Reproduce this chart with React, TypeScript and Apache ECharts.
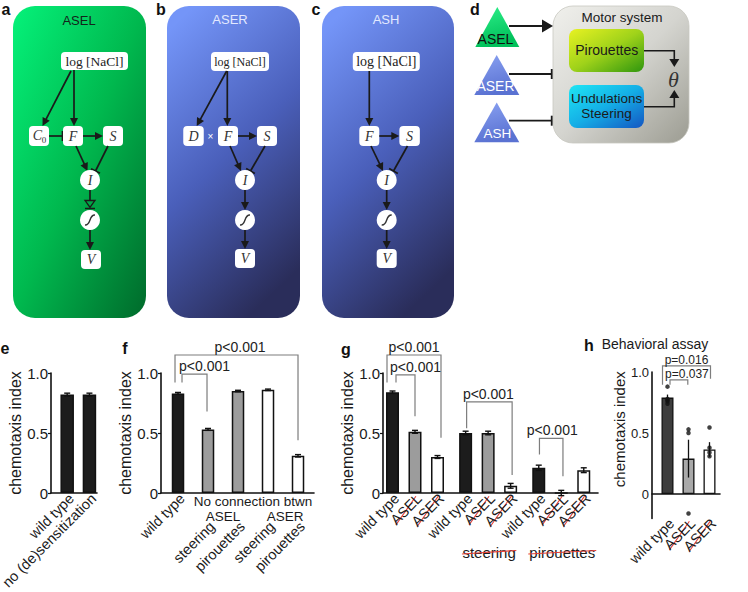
import React, { useEffect, useRef } from 'react';
import * as echarts from 'echarts';

const SANS = '"Liberation Sans", Arial, Helvetica, sans-serif';
const SERIF = '"Liberation Serif", "Times New Roman", Times, serif';
const INK = '#1a1a1a';
const RED = '#e5403a';
const BRACKET = '#7d7d7d';

// ---------------- data : panel e ----------------
const eNames = ['wild type', 'no (de)sensitization'];
const eValues = [0.82, 0.82];
const eErrors = [0.012, 0.012];
const eFills = ['black', 'black'];

// ---------------- data : panel f ----------------
const fNames = ['wild type', 'steering', 'pirouettes', 'steering', 'pirouettes'];
const fValues = [0.83, 0.53, 0.85, 0.86, 0.31];
const fErrors = [0.008, 0.008, 0.006, 0.006, 0.01];
const fFills = ['black', 'grey', 'grey', 'white', 'white'];
const fHeading = 'No connection btwn';
const fSubHeadings = ['ASEL', 'ASER'];

// ---------------- data : panel g ----------------
const gNames = ['wild type', 'ASEL', 'ASER', 'wild type', 'ASEL', 'ASER', 'wild type', 'ASEL', 'ASER'];
const gGroupOf = [0, 0, 0, 1, 1, 1, 2, 2, 2];
const gSlotOf = [0, 1, 2, 0, 1, 2, 0, 1, 2];
const gValues = [0.84, 0.51, 0.3, 0.5, 0.5, 0.06, 0.21, 0.0, 0.19];
const gErrors = [0.01, 0.012, 0.012, 0.015, 0.015, 0.02, 0.022, 0.022, 0.02];
const gFills = ['black', 'grey', 'white', 'black', 'grey', 'white', 'black', 'grey', 'white'];
const gCrossed = [false, true, true, false, true, true, false, true, true];
const gGroupNames = ['', 'steering', 'pirouettes'];

// ---------------- data : panel h ----------------
const hNames = ['wild type', 'ASEL', 'ASER'];
const hValues = [0.79, 0.29, 0.365];
const hErrors = [0.025, 0.155, 0.06];
const hFills = ['dark', 'light', 'white'];
const hCrossed = [false, true, true];
const hPoints = [
  [0.88, 0.78, 0.77, 0.76, 0.74],
  [0.53, 0.5, -0.16],
  [0.545, 0.38, 0.34, 0.31],
];

// ---------------- significance brackets ----------------
const fBrackets = [
  { from: 0, to: 4, top: 1.15, leftEnd: 0.92, rightEnd: 0.44, text: 'p<0.001' },
  { from: 0, to: 1, top: 0.99, leftEnd: 0.92, rightEnd: 0.68, text: 'p<0.001' },
];
const gBrackets = [
  { from: 0, to: 2, top: 1.15, leftEnd: 0.92, rightEnd: 0.46, text: 'p<0.001' },
  { from: 0, to: 1, top: 0.985, leftEnd: 0.92, rightEnd: 0.64, text: 'p<0.001' },
  { from: 3, to: 5, top: 0.76, leftEnd: 0.54, rightEnd: 0.15, text: 'p<0.001' },
  { from: 6, to: 7, top: 0.455, leftEnd: 0.32, rightEnd: 0.14, text: 'p<0.001' },
];
const hBrackets = [
  { from: 0, to: 2, top: 1.05, leftEnd: 0.895, rightEnd: 0.945, text: 'p=0.016' },
  { from: 0, to: 1, top: 0.935, leftEnd: 0.895, rightEnd: 0.895, text: 'p=0.037' },
];
// pixel nudges of bracket ends / texts (style)
const fNudge = [{ dl: -3, dr: 0, tdx: 3.5 }, { dl: 4, dr: -1, tdx: 10 }];
const gNudge = [{ dl: -5.5, dr: 3.5, tdx: 0 }, { dl: 3.5, dr: 0, tdx: 10 }, { dl: 1, dr: 1.5, tdx: -1 }, { dl: 0.7, dr: 1.7, tdx: 1 }];
const hNudge = [{ dl: -5, dr: 1, tdx: 0 }, { dl: 2.5, dr: -0.7, tdx: 8 }];

// ---------------- layout ----------------
const G_STEP = 3.25;
const ePos = eNames.map((_, i) => i + 1);
const fPos = fNames.map((_, i) => i + 1);
const gPos = gNames.map((_, i) => 1 + gGroupOf[i] * G_STEP + gSlotOf[i]);
const hPos = hNames.map((_, i) => i + 1);

const LABEL_D = 3;
const F_LOW_D = 31;
const H_D = 27;
const LBL_FS = 14.5;

function fillOf(k: string) {
  if (k === 'black') return '#1c1c1c';
  if (k === 'grey') return '#9c9c9c';
  if (k === 'dark') return '#3d3d3d';
  if (k === 'light') return '#a9a9a9';
  return '#ffffff';
}

const tickFmt = (v: number) =>
  Math.abs(v - 1) < 1e-6 ? '1.0' : Math.abs(v - 0.5) < 1e-6 ? '0.5' : Math.abs(v) < 1e-6 ? '0' : '';

function xAxisOf(gridIndex: number, min: number, max: number) {
  return {
    type: 'value', gridIndex, min, max,
    axisLine: { show: true, onZero: true, lineStyle: { color: '#111', width: 1.6 } },
    axisTick: { show: false }, axisLabel: { show: false }, splitLine: { show: false },
  };
}
function yAxisOf(gridIndex: number, min: number, nameGap: number, ticks: boolean, tickFs: number, nameFs: number, namePad?: number[]) {
  return {
    type: 'value', gridIndex, min, max: 1, interval: min < 0 ? 0.1 : 0.5,
    name: 'chemotaxis index', nameLocation: 'middle', nameGap,
    nameTextStyle: { fontSize: nameFs, fontFamily: SANS, color: INK, padding: namePad || 0 },
    axisLine: { show: true, onZero: false, lineStyle: { color: '#111', width: 1.6 } },
    axisTick: { show: ticks, length: 3, lineStyle: { color: '#111', width: 1.2 } },
    axisLabel: { fontSize: tickFs, fontFamily: SANS, color: INK, margin: 3, formatter: tickFmt },
    splitLine: { show: false },
  };
}
function barsOf(axis: number, names: string[], pos: number[], vals: number[], fills: string[], dist: number[], width: number, bw: number) {
  return {
    type: 'bar', xAxisIndex: axis, yAxisIndex: axis, barWidth: width, z: 2,
    itemStyle: { borderColor: '#111', borderWidth: bw },
    label: {
      show: true, position: 'bottom', rotate: 45, align: 'right', verticalAlign: 'middle',
      offset: [3, 3],
      formatter: '{b}', fontSize: LBL_FS, fontFamily: SANS, color: INK,
    },
    data: names.map((n, i) => ({
      name: n, value: [pos[i], vals[i]],
      itemStyle: { color: fillOf(fills[i]) },
      label: { distance: dist[i] },
    })),
  };
}
function errorsOf(axis: number, pos: number[], vals: number[], errs: number[], cap: number, lw: number) {
  return {
    type: 'custom', xAxisIndex: axis, yAxisIndex: axis, z: 5,
    encode: { x: 0, y: 1 },
    data: pos.map((p, i) => [p, vals[i], errs[i]]),
    renderItem: (_p: any, api: any) => {
      const x = api.value(0), m = api.value(1), e = api.value(2);
      const a = api.coord([x, m + e]);
      const b = api.coord([x, m - e]);
      const st = { stroke: '#111', lineWidth: lw };
      const ch: any[] = [{ type: 'line', shape: { x1: a[0], y1: a[1], x2: b[0], y2: b[1] }, style: st }];
      if (cap > 0) {
        ch.push({ type: 'line', shape: { x1: a[0] - cap, y1: a[1], x2: a[0] + cap, y2: a[1] }, style: st });
        ch.push({ type: 'line', shape: { x1: b[0] - cap, y1: b[1], x2: b[0] + cap, y2: b[1] }, style: st });
      }
      return { type: 'group', children: ch };
    },
  };
}

function buildOption() {
  const hDots: number[][] = [];
  hPoints.forEach((arr, i) => arr.forEach((v) => hDots.push([hPos[i], v])));
  return {
    animation: false,
    backgroundColor: '#ffffff',
    grid: [
      { left: 51, top: 373, width: 46, height: 120 },
      { left: 161, top: 373, width: 153, height: 120 },
      { left: 383, top: 373, width: 215, height: 120 },
      { left: 652, top: 372, width: 68, height: 146.4 },
    ],
    xAxis: [
      xAxisOf(0, 0.272, 2.34),
      xAxisOf(1, 0.433, 5.533),
      xAxisOf(2, 0.578, 10.133),
      xAxisOf(3, 0.262, 3.5),
    ],
    yAxis: [
      yAxisOf(0, 0, 27, true, 15, 16),
      yAxisOf(1, 0, 21, true, 15, 16),
      yAxisOf(2, 0, 27, true, 15, 16),
      yAxisOf(3, -0.2, 22, false, 13, 15, [0, 0, 0, 32]),
    ],
    series: [
      barsOf(0, eNames, ePos, eValues, eFills, eNames.map(() => LABEL_D), 13.5, 1.5),
      errorsOf(0, ePos, eValues, eErrors, 3, 1.4),
      barsOf(1, fNames, fPos, fValues, fFills, fNames.map((_, i) => (i === 0 ? LABEL_D : F_LOW_D)), 12.5, 1.5),
      errorsOf(1, fPos, fValues, fErrors, 3, 1.4),
      barsOf(2, gNames, gPos, gValues, gFills, gNames.map(() => LABEL_D), 13, 1.5),
      errorsOf(2, gPos, gValues, gErrors, 3, 1.4),
      barsOf(3, hNames, hPos, hValues, hFills, hNames.map(() => H_D), 12, 1.3),
      errorsOf(3, hPos, hValues, hErrors, 0, 1.3),
      {
        type: 'scatter', xAxisIndex: 3, yAxisIndex: 3, z: 6, symbol: 'circle', symbolSize: 4.5,
        itemStyle: { color: '#111' }, data: hDots,
      },
    ],
  };
}

// ---------------- graphic helpers ----------------
const lin = (x1: number, y1: number, x2: number, y2: number, stroke = INK, lw = 1.7) =>
  ({ type: 'line', shape: { x1, y1, x2, y2 }, style: { stroke, lineWidth: lw } });
function unit(x1: number, y1: number, x2: number, y2: number) {
  const dx = x2 - x1, dy = y2 - y1, d = Math.hypot(dx, dy);
  return [dx / d, dy / d];
}
function arrow(x1: number, y1: number, x2: number, y2: number, len = 8, hw = 4, color = INK, lw = 1.7) {
  const [ux, uy] = unit(x1, y1, x2, y2);
  const bx = x2 - ux * len, by = y2 - uy * len;
  return [
    lin(x1, y1, bx + ux, by + uy, color, lw),
    { type: 'polygon', shape: { points: [[x2, y2], [bx - uy * hw, by + ux * hw], [bx + uy * hw, by - ux * hw]] }, style: { fill: color } },
  ];
}
function inhibit(x1: number, y1: number, x2: number, y2: number, hw = 5, color = INK, lw = 1.7) {
  const [ux, uy] = unit(x1, y1, x2, y2);
  return [lin(x1, y1, x2, y2, color, lw), lin(x2 - uy * hw, y2 + ux * hw, x2 + uy * hw, y2 - ux * hw, color, lw)];
}
const txt = (text: string, x: number, y: number, font: string, fill = INK, align = 'center', rotation = 0) => ({
  type: 'text', x, y, rotation,
  style: { text, font, fill, align, textAlign: align, verticalAlign: 'middle', textVerticalAlign: 'middle' },
});
const node = (cx: number, cy: number, w: number, h: number, r = 4) =>
  ({ type: 'rect', shape: { x: cx - w / 2, y: cy - h / 2, width: w, height: h, r }, style: { fill: '#ffffff' } });
const circ = (cx: number, cy: number) => ({ type: 'circle', shape: { cx, cy, r: 10 }, style: { fill: '#ffffff' } });
const sigm = (cx: number, cy: number) => ({
  type: 'bezierCurve',
  shape: { x1: cx - 5, y1: cy + 5, cpx1: cx + 1.5, cpy1: cy + 5.5, cpx2: cx - 1.5, cpy2: cy - 5.5, x2: cx + 5, y2: cy - 5 },
  style: { stroke: '#333', lineWidth: 1.4, fill: 'none' },
});
const grad = (x2: number, y2: number, stops: string[], x = 0, y = 0) =>
  new echarts.graphic.LinearGradient(x, y, x2, y2, stops.map((c, i) => ({ offset: i / (stops.length - 1), color: c })));
const IT = (s: number) => `italic ${s}px ${SERIF}`;
const BOLD = `bold 16px ${SANS}`;

function diagrams(): any[] {
  const els: any[] = [];
  const greenBg = grad(1, 1, ['#05f27a', '#00b84e', '#006a2b']);
  const blueBg = grad(0.6, 1, ['#7495f8', '#4a5fba', '#2a2d5a'], 0.2, 0);

  // panel labels
  ['a', 'b', 'c', 'd'].forEach((l, i) => els.push(txt(l, [6, 161, 316, 475][i], 9, BOLD, '#111')));
  [['e', 5, 348], ['f', 125, 348], ['g', 346, 349], ['h', 589, 345]].forEach((a: any) => els.push(txt(a[0], a[1], a[2], BOLD, '#111')));

  // ---- panel a ----
  els.push({ type: 'rect', shape: { x: 13, y: 6, width: 133, height: 312, r: 22 }, style: { fill: greenBg } });
  els.push(txt('ASEL', 79, 20, `13px ${SANS}`, '#13241a'));
  els.push(node(94.5, 61, 67, 18));
  els.push(txt('log [NaCl]', 94.5, 61, `13.5px ${SERIF}`, '#222'));
  els.push(...arrow(71, 71, 42.5, 126));
  els.push(...arrow(74, 70, 74, 126));
  els.push(node(39, 136, 20, 20));
  els.push(txt('C', 37.5, 135.5, IT(14), '#333'));
  els.push(txt('0', 44, 140, `9px ${SERIF}`, '#333'));
  els.push(...inhibit(49, 136, 62.5, 136));
  els.push(node(73, 136, 20, 20));
  els.push(txt('F', 73, 136, IT(14), '#333'));
  els.push(...arrow(83, 136, 103, 136));
  els.push(node(113, 136, 20, 20));
  els.push(txt('S', 113, 136, IT(14), '#333'));
  els.push(...arrow(76, 146, 87.5, 171));
  els.push(...inhibit(108, 146, 95.5, 171));
  els.push(circ(90, 180));
  els.push(txt('I', 90, 180, IT(14), '#333'));
  els.push(lin(90, 190, 90, 201));
  els.push({ type: 'polygon', shape: { points: [[85, 200.5], [95, 200.5], [90, 207.5]] }, style: { fill: 'none', stroke: INK, lineWidth: 1.3 } });
  els.push(lin(85, 208.5, 95, 208.5, INK, 1.5));
  els.push(circ(90, 220));
  els.push(sigm(90, 220));
  els.push(...arrow(90, 230, 90, 250));
  els.push(node(91, 259.5, 20, 19));
  els.push(txt('V', 91, 259.5, IT(14), '#333'));

  // ---- panel b ----
  els.push({ type: 'rect', shape: { x: 167, y: 6, width: 133, height: 312, r: 22 }, style: { fill: blueBg } });
  els.push(txt('ASER', 230, 19, `13px ${SANS}`, '#e3e9ff'));
  els.push(node(240, 61.5, 58, 19));
  els.push(txt('log [NaCl]', 240, 61.5, `12px ${SERIF}`, '#222'));
  els.push(...arrow(226.7, 71, 196.7, 126));
  els.push(...arrow(227.3, 71, 227.3, 126));
  els.push(node(193.5, 136, 20.5, 20));
  els.push(txt('D', 193.5, 136, IT(14), '#333'));
  els.push(txt('×', 210.5, 136.5, `10px ${SANS}`, '#ffffff'));
  els.push(node(228, 136, 20, 20));
  els.push(txt('F', 228, 136, IT(14), '#333'));
  els.push(...arrow(238, 136, 257, 136));
  els.push(node(267, 136, 20, 20));
  els.push(txt('S', 267, 136, IT(14), '#333'));
  els.push(...arrow(230, 146, 241, 171));
  els.push(...inhibit(265, 146, 250.5, 171));
  els.push(circ(245, 180));
  els.push(txt('I', 245, 180, IT(14), '#333'));
  els.push(...arrow(245, 190, 245, 210));
  els.push(circ(245, 220));
  els.push(sigm(245, 220));
  els.push(...arrow(245, 230, 245, 249));
  els.push(node(245, 258.5, 20, 19));
  els.push(txt('V', 245, 258.5, IT(14), '#333'));

  // ---- panel c ----
  els.push({ type: 'rect', shape: { x: 322, y: 6, width: 132, height: 312, r: 22 }, style: { fill: blueBg } });
  els.push(txt('ASH', 386, 19, `13px ${SANS}`, '#e3e9ff'));
  els.push(node(386.3, 61.5, 67, 19));
  els.push(txt('log [NaCl]', 386.3, 61.5, `14px ${SERIF}`, '#222'));
  els.push(...arrow(369.3, 71, 369.3, 126));
  els.push(node(369.3, 136, 20, 20));
  els.push(txt('F', 369.3, 136, IT(14), '#333'));
  els.push(...arrow(379.3, 136, 399.3, 136));
  els.push(node(409.6, 136, 20.5, 20));
  els.push(txt('S', 409.6, 136, IT(14), '#333'));
  els.push(...arrow(371, 146, 383, 171));
  els.push(...inhibit(407.5, 146, 393.5, 171));
  els.push(circ(386.7, 180));
  els.push(txt('I', 386.7, 180, IT(14), '#333'));
  els.push(...arrow(386.7, 190, 386.7, 210));
  els.push(circ(386.7, 220));
  els.push(sigm(386.7, 220));
  els.push(...arrow(386.7, 230, 386.7, 249));
  els.push(node(386.7, 258.5, 20, 19));
  els.push(txt('V', 386.7, 258.5, IT(14), '#333'));

  // ---- panel d ----
  els.push({ type: 'rect', shape: { x: 553, y: 6, width: 136, height: 137, r: 20 }, style: { fill: grad(1, 1, ['#f0f0ec', '#d4d4cf', '#9c9c92']), stroke: '#c8c8c0', lineWidth: 0.8 } });
  els.push(txt('Motor system', 622, 17, `13.5px ${SANS}`, '#1a1a1a'));
  els.push({ type: 'rect', shape: { x: 569, y: 29, width: 75, height: 43, r: 8 }, style: { fill: grad(1, 1, ['#e8f222', '#9fd21a', '#2f960e']) } });
  els.push(txt('Pirouettes', 606.7, 49.5, `14px ${SANS}`, '#1a1a1a'));
  els.push({ type: 'rect', shape: { x: 569, y: 85, width: 75, height: 43, r: 8 }, style: { fill: grad(1, 1, ['#1fe6f4', '#14aee6', '#1456c2']) } });
  els.push(txt('Undulations', 606.7, 98.8, `13.5px ${SANS}`, '#1a1a1a'));
  els.push(txt('Steering', 606.5, 113.2, `13.5px ${SANS}`, '#1a1a1a'));
  els.push({ type: 'polyline', shape: { points: [[644, 50.7], [674.3, 50.7], [674.3, 60]] }, style: { stroke: INK, lineWidth: 1.6, fill: 'none' } });
  els.push({ type: 'polygon', shape: { points: [[669.3, 59], [679.3, 59], [674.3, 67]] }, style: { fill: INK } });
  els.push({ type: 'polyline', shape: { points: [[644, 106.7], [674.3, 106.7], [674.3, 97]] }, style: { stroke: INK, lineWidth: 1.6, fill: 'none' } });
  els.push({ type: 'polygon', shape: { points: [[669.3, 98], [679.3, 98], [674.3, 90]] }, style: { fill: INK } });
  els.push(txt('θ', 673.5, 79.5, IT(22), '#333'));

  const triG = grad(0.3, 1, ['#2ef08a', '#00c05a']);
  const triB = grad(0.3, 1, ['#8aa2f2', '#5a72d2']);
  els.push({ type: 'polygon', shape: { points: [[497.3, 7], [475.3, 47], [519.3, 47]] }, style: { fill: triG } });
  els.push({ type: 'polygon', shape: { points: [[496.7, 55], [474.3, 95], [519.3, 95]] }, style: { fill: triB } });
  els.push({ type: 'polygon', shape: { points: [[496.7, 102.5], [474.3, 142.3], [519.3, 142.3]] }, style: { fill: triB } });
  els.push(txt('ASEL', 495.5, 39.3, `14px ${SANS}`, '#111'));
  els.push(txt('ASER', 495.5, 86, `14px ${SANS}`, '#ffffff'));
  els.push(txt('ASH', 497.3, 133.3, `13.5px ${SANS}`, '#ffffff'));
  els.push(...arrow(509, 26, 553, 26, 11, 6.5, INK, 1.8));
  els.push(...inhibit(509, 74, 551.7, 74, 5, INK, 1.8));
  els.push(...inhibit(509, 120.7, 551.7, 120.7, 5, INK, 1.8));
  return els;
}

function annotations(chart: any): any[] {
  const els: any[] = [];
  const P = (grid: number, x: number, y: number) => chart.convertToPixel({ gridIndex: grid }, [x, y]) as number[];

  const brackets = (grid: number, pos: number[], list: any[], nudges: any[], fs: number, gap: number) => {
    list.forEach((b, i) => {
      const n = nudges[i];
      const lx = P(grid, pos[b.from], b.top)[0] + n.dl;
      const rx = P(grid, pos[b.to], b.top)[0] + n.dr;
      const ty = P(grid, pos[b.from], b.top)[1];
      const ly = P(grid, pos[b.from], b.leftEnd)[1];
      const ry = P(grid, pos[b.to], b.rightEnd)[1];
      els.push({ type: 'polyline', shape: { points: [[lx, ly], [lx, ty], [rx, ty], [rx, ry]] }, style: { stroke: BRACKET, lineWidth: 1.2, fill: 'none' } });
      els.push(txt(b.text, (lx + rx) / 2 + n.tdx, ty - gap, `${fs}px ${SANS}`, '#222'));
    });
  };
  brackets(1, fPos, fBrackets, fNudge, 14, 8);
  brackets(2, gPos, gBrackets, gNudge, 14, 8);
  brackets(3, hPos, hBrackets, hNudge, 12, 6);

  // f headings
  const fb = P(1, fPos[1], 0)[1];
  const fx = fPos.map((p) => P(1, p, 0)[0]);
  els.push(txt(fHeading, (fx[1] + fx[4]) / 2, fb + 8.5, `13.5px ${SANS}`, INK));
  els.push(txt(fSubHeadings[0], (fx[1] + fx[2]) / 2, fb + 23.5, `13.5px ${SANS}`, INK));
  els.push(txt(fSubHeadings[1], (fx[3] + fx[4]) / 2 + 2, fb + 23.5, `13.5px ${SANS}`, INK));

  // crossed-out rotated labels
  const strike = (grid: number, pos: number[], crossed: boolean[], names: string[], dist: number) => {
    pos.forEach((p, i) => {
      if (!crossed[i]) return;
      const a = P(grid, p, 0);
      const ax = a[0] + 4, ay = a[1] + dist;
      const L = names[i] === 'ASER' ? 39 : 37;
      const c = [ax - (L / 2) * 0.707, ay + (L / 2) * 0.707 + 1.5];
      const h = L / 2 - 1;
      els.push(lin(c[0] - h * 0.57, c[1] + h * 0.82, c[0] + h * 0.57, c[1] - h * 0.82, RED, 1.1));
    });
  };
  strike(2, gPos, gCrossed, gNames, LABEL_D);
  strike(3, hPos, hCrossed, hNames, H_D);

  // g group headings (crossed out)
  const gb = P(2, gPos[0], 0)[1];
  gGroupNames.forEach((name, g) => {
    if (!name) return;
    const xs = gPos.filter((_, i) => gGroupOf[i] === g).map((p) => P(2, p, 0)[0]);
    const cx = xs.reduce((s, v) => s + v, 0) / xs.length + 1;
    const y = gb + 59;
    els.push(txt(name, cx, y, `15px ${SANS}`, INK));
    const half = name.length * 3.4;
    els.push(lin(cx - half, y + 2, cx + half, y - 1.5, RED, 1.1));
  });

  els.push(txt('Behavioral assay', 655, 343.5, `14px ${SANS}`, INK));
  return els;
}

export default function App() {
  const ref = useRef<HTMLDivElement>(null);
  useEffect(() => {
    document.body.style.margin = '0';
    const chart = echarts.init(ref.current as HTMLDivElement, null, { renderer: 'svg' });
    chart.setOption(buildOption() as any);
    chart.setOption({ graphic: [...diagrams(), ...annotations(chart)] } as any);
    return () => chart.dispose();
  }, []);
  return <div ref={ref} style={{ width: 748, height: 592 }} />;
}
